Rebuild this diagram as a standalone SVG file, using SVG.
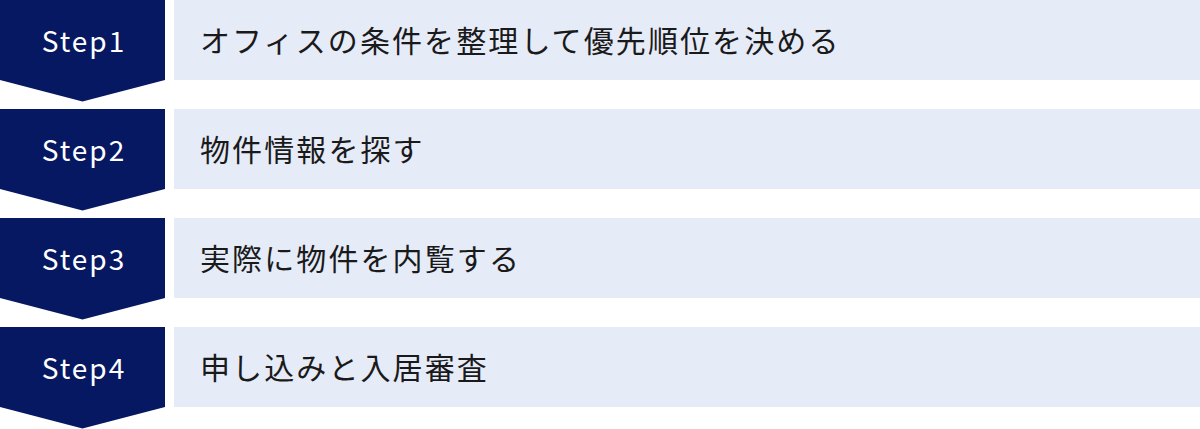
<svg xmlns="http://www.w3.org/2000/svg" width="1200" height="429" viewBox="0 0 1200 429">
<style>
.badge{fill:#061862}
.panel{fill:#E6EBF8}
.step{font-family:"Noto Sans CJK JP","Noto Sans",sans-serif;font-size:28px;fill:#ffffff;text-anchor:middle;letter-spacing:2px}
.label{font-family:"Noto Sans CJK JP","Noto Sans",sans-serif;font-size:30px;fill:#1a1a1a;letter-spacing:2.1px}
</style>
<rect width="1200" height="429" fill="#ffffff"/>
<g id="step1">
<polygon class="badge" points="0,0 165,0 165,80 82.5,101.5 0,80"/>
<rect class="panel" x="174" y="0" width="1026" height="80"/>
<text class="step" x="84" y="52">Step1</text>
<text class="label" x="200" y="51.5">オフィスの条件を整理して優先順位を決める</text>
</g>
<g id="step2">
<polygon class="badge" points="0,109 165,109 165,189 82.5,210.5 0,189"/>
<rect class="panel" x="174" y="109" width="1026" height="80"/>
<text class="step" x="84" y="161">Step2</text>
<text class="label" x="200" y="160.5">物件情報を探す</text>
</g>
<g id="step3">
<polygon class="badge" points="0,218 165,218 165,298 82.5,319.5 0,298"/>
<rect class="panel" x="174" y="218" width="1026" height="80"/>
<text class="step" x="84" y="270">Step3</text>
<text class="label" x="200" y="269.5">実際に物件を内覧する</text>
</g>
<g id="step4">
<polygon class="badge" points="0,327 165,327 165,407 82.5,428.5 0,407"/>
<rect class="panel" x="174" y="327" width="1026" height="80"/>
<text class="step" x="84" y="379">Step4</text>
<text class="label" x="200" y="378.5">申し込みと入居審査</text>
</g>
<g id="connectors"></g>
</svg>
